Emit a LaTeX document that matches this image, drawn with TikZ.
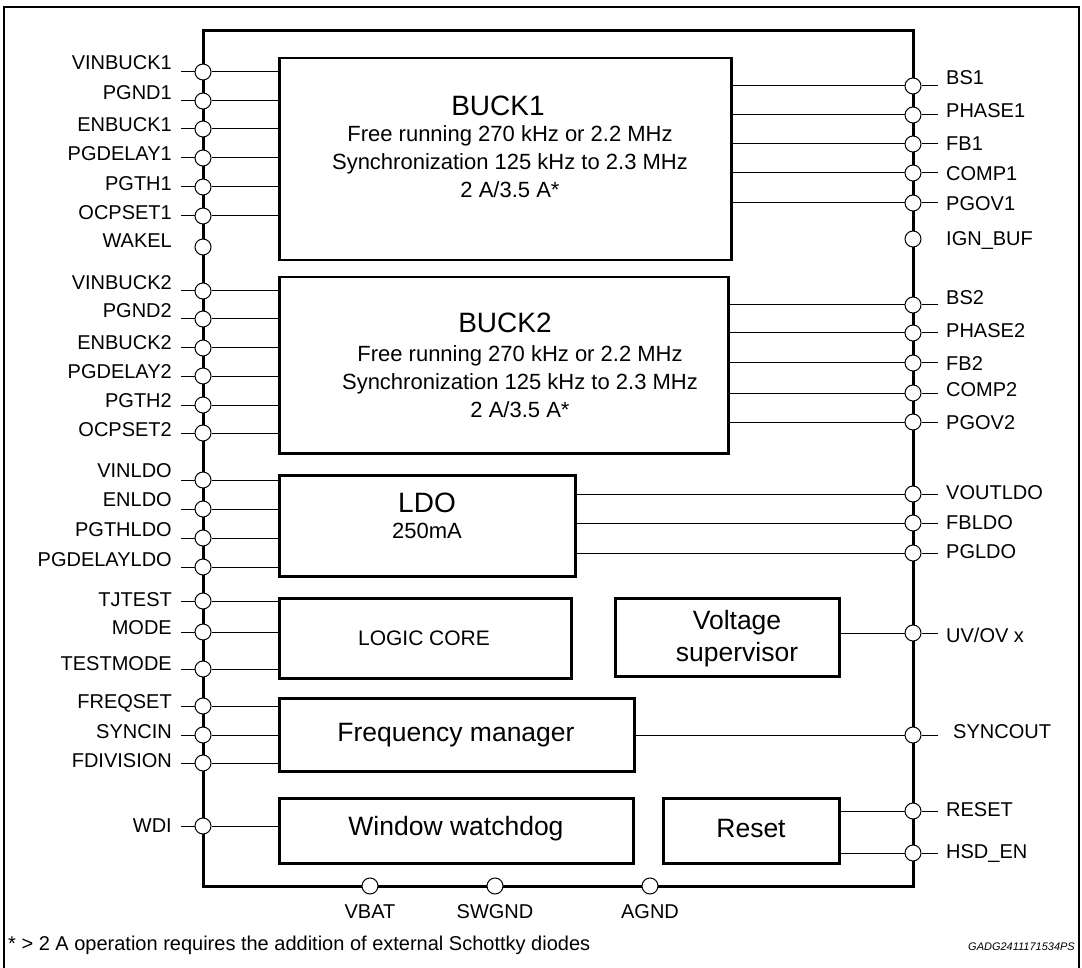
\documentclass[tikz,border=0pt]{standalone}
\usepackage{fontspec}
\setmainfont{Liberation Sans}
\usetikzlibrary{positioning}

\begin{document}
\begin{tikzpicture}[x=1pt, y=-1pt,
  pin/.style={circle, draw, fill=white, line width=1pt, minimum size=16pt, inner sep=0pt},
  blk/.style={draw, line width=2.5pt, anchor=north west, inner sep=0pt},
  wire/.style={line width=1pt},
  pinlbl/.style={font=\fontsize{20}{24}\selectfont, inner sep=0pt},
  title/.style={font=\fontsize{28}{32}\selectfont, inner sep=0pt},
  desc/.style={font=\fontsize{22}{28}\selectfont, inner sep=0pt, align=center},
  blktxt/.style={font=\fontsize{26.5}{32}\selectfont, inner sep=0pt, align=center}]
\useasboundingbox (0,0) rectangle (1082,968);

% outer frame, open at the bottom
\draw[line width=2.5pt] (4,972) -- (4,7) -- (1079,7) -- (1079,972);

% package outline
\draw[line width=3pt] (203,31) rectangle (913,886);

% functional blocks
\node[blk, minimum width=452pt, minimum height=202pt] (buck1) at (278,57) {};
\node[blk, minimum width=449pt, minimum height=176pt] (buck2) at (278,276) {};
\node[blk, minimum width=296pt, minimum height=101pt] (ldo) at (278,474) {};
\node[blk, minimum width=292pt, minimum height=80pt] (logic) at (278,597) {};
\node[blk, minimum width=224pt, minimum height=78pt] (vsup) at (614,597) {};
\node[blk, minimum width=355pt, minimum height=73pt] (freq) at (278,697) {};
\node[blk, minimum width=354pt, minimum height=65pt] (wdog) at (278,797) {};
\node[blk, minimum width=176pt, minimum height=65pt] (rst) at (662,797) {};

% block texts
\node[title] (buck1-t) at (498,106) {BUCK1};
\node[desc] (buck1-d) at (510,162) {Free running 270 kHz or 2.2 MHz\\Synchronization 125 kHz to 2.3 MHz\\2 A/3.5 A*};
\node[title] (buck2-t) at (505,323) {BUCK2};
\node[desc] (buck2-d) at (520,382) {Free running 270 kHz or 2.2 MHz\\Synchronization 125 kHz to 2.3 MHz\\2 A/3.5 A*};
\node[title] (ldo-t) at (427,503) {LDO};
\node[font=\fontsize{22}{24}\selectfont, inner sep=0pt] (ldo-d) at (427,531) {250mA};
\node[font=\fontsize{21}{24}\selectfont, inner sep=0pt] (logic-t) at (424,638) {LOGIC CORE};
\node[blktxt] (vsup-t) at (737,639) {Voltage\\supervisor};
\node[blktxt] (freq-t) at (456,735) {Frequency manager};
\node[blktxt] (wdog-t) at (456,829) {Window watchdog};
\node[blktxt] (rst-t) at (751,829) {Reset};

% left side pins: pin y / label y / name / text / block
\foreach \py/\ly/\nm/\txt/\blk in {
    72/63/vinbuck1/VINBUCK1/buck1, 101/93/pgnd1/PGND1/buck1,
    129/125/enbuck1/ENBUCK1/buck1, 158/154/pgdelay1/PGDELAY1/buck1,
    187/184/pgth1/PGTH1/buck1, 216/213/ocpset1/OCPSET1/buck1,
    291/283/vinbuck2/VINBUCK2/buck2, 319/311/pgnd2/PGND2/buck2,
    348/343/enbuck2/ENBUCK2/buck2, 376/372/pgdelay2/PGDELAY2/buck2,
    405/401/pgth2/PGTH2/buck2, 433/430/ocpset2/OCPSET2/buck2,
    480/471/vinldo/VINLDO/ldo, 509/500/enldo/ENLDO/ldo,
    538/530/pgthldo/PGTHLDO/ldo, 567/560/pgdelayldo/PGDELAYLDO/ldo,
    601/600/tjtest/TJTEST/logic, 632/628/mode/MODE/logic,
    669/664/testmode/TESTMODE/logic,
    706/703/freqset/FREQSET/freq, 735/732/syncin/SYNCIN/freq,
    763/761/fdivision/FDIVISION/freq,
    826/826/wdi/WDI/wdog}{
  \node[pin] (\nm) at (203,\py) {};
  \node[pinlbl, anchor=east] (\nm-l) at (172,\ly) {\txt};
  \draw[wire] (\nm.west) -- ++(-14,0);
  \draw[wire] (\nm.east) -- (\blk.west |- \nm);
}
\node[pin] (wakel) at (203,247) {};
\node[pinlbl, anchor=east] (wakel-l) at (172,241) {WAKEL};

% right side pins
\foreach \py/\ly/\nm/\txt/\blk in {
    86/78/bs1/BS1/buck1, 115/111/phase1/PHASE1/buck1,
    144/144/fb1/FB1/buck1, 173/174/comp1/COMP1/buck1,
    203/204/pgov1/PGOV1/buck1,
    305/298/bs2/BS2/buck2, 333/331/phase2/PHASE2/buck2,
    363/364/fb2/FB2/buck2, 393/390/comp2/COMP2/buck2,
    422/423/pgov2/PGOV2/buck2,
    494/493/voutldo/VOUTLDO/ldo, 523/523/fbldo/FBLDO/ldo,
    553/552/pgldo/PGLDO/ldo,
    633/635/uvov/{UV/OV x}/vsup,
    735/732/syncout/{\hspace*{7pt}SYNCOUT}/freq,
    811/810/reset/RESET/rst, 853/853/hsden/HSD\_EN/rst}{
  \node[pin] (\nm) at (913,\py) {};
  \node[pinlbl, anchor=west] (\nm-l) at (946,\ly) {\txt};
  \draw[wire] (\nm.east) -- ++(16,0);
  \draw[wire] (\nm.west) -- (\blk.east |- \nm);
}
\node[pin] (ignbuf) at (913,239) {};
\node[pinlbl, anchor=west] (ignbuf-l) at (946,241) {IGN\_BUF};

% bottom pins
\foreach \px/\nm/\txt in {370/vbat/VBAT, 495/swgnd/SWGND, 650/agnd/AGND}{
  \node[pin] (\nm) at (\px,886) {};
  \node[pinlbl] (\nm-l) at (\px,912) {\txt};
}

% footnote and figure id
\node[pinlbl, anchor=west] (note) at (8,945) {* > 2 A operation requires the addition of external Schottky diodes};
\node[font=\fontsize{11}{13}\selectfont\itshape, inner sep=0pt, anchor=east] (figid) at (1075,947) {GADG2411171534PS};
\end{tikzpicture}
\end{document}
